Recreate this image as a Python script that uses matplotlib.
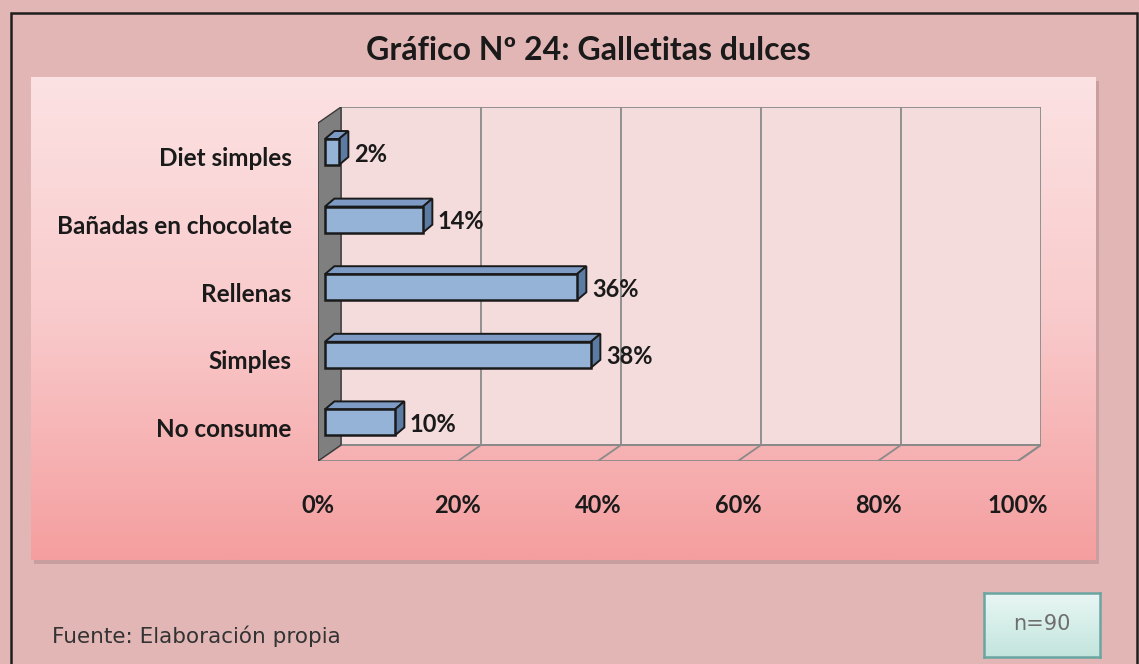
import numpy as np
import matplotlib
matplotlib.use("Agg")
import matplotlib.pyplot as plt
from matplotlib.patches import Rectangle, Polygon
from matplotlib.colors import LinearSegmentedColormap

# Data (bottom to top)
categories = ["No consume", "Simples", "Rellenas", "Bañadas en chocolate", "Diet simples"]
percentages = [10, 38, 36, 14, 2]
x_ticks = [0, 20, 40, 60, 80, 100]
x_tick_labels = ["0%", "20%", "40%", "60%", "80%", "100%"]

title = "Gráfico Nº 24: Galletitas dulces"
source = "Fuente: Elaboración propia"
sample = "n=90"

W, H = 1139, 664


def fbox(x0, y0, x1, y1):
    # pixel box (top-left origin) -> figure rect
    return [x0 / W, 1 - y1 / H, (x1 - x0) / W, (y1 - y0) / H]


fig = plt.figure(figsize=(W / 100, H / 100), dpi=100)
fig.patch.set_facecolor("#E3B6B6")

# outer frame
fig.add_artist(Rectangle((11 / W, -0.02), (1137 - 11) / W, 1 - 13 / H + 0.02,
                         transform=fig.transFigure, fill=False,
                         edgecolor="#1E1E1E", linewidth=1.8))

# panel shadow + gradient panel
fig.add_artist(Rectangle((34 / W, 1 - 564 / H), (1096 - 31) / W, (560 - 77) / H,
                         transform=fig.transFigure, facecolor="#B88E8E",
                         edgecolor="none", alpha=0.6, zorder=-1))
bg = fig.add_axes(fbox(31, 77, 1096, 560))
grad = LinearSegmentedColormap.from_list("panel", ["#FCE2E3", "#F9CACB", "#F59E9F"])
bg.imshow(np.linspace(0, 1, 256).reshape(-1, 1), aspect="auto", cmap=grad,
          extent=[0, 1, 0, 1], origin="upper")
bg.axis("off")

fig.text(588 / W, 1 - 50 / H, title, ha="center", va="center",
         fontsize=23, fontweight="bold", family="Lato", color="#1A1A1A")

# main 3D-looking bar chart
dx, dy = 3.29, 0.237          # depth of the floor/back wall
f0 = 0.3                      # where the bars sit in depth
bdx, bdy = 1.35, 0.118        # bar depth
bh = 0.385                    # bar height

ax = fig.add_axes(fbox(318, 107, 1041, 461))
ax.set_xlim(0, 100 + dx)
ax.set_ylim(0, len(categories) + dy)
ax.patch.set_alpha(0)
for s in ax.spines.values():
    s.set_visible(False)

n = len(categories)
grid_c = "#8A8A8A"
# back wall
ax.add_patch(Polygon([(dx, dy), (100 + dx, dy), (100 + dx, n + dy), (dx, n + dy)],
                     closed=True, facecolor="#F4DCDC", edgecolor=grid_c, lw=1.3, zorder=1))
for t in x_ticks[1:-1]:
    ax.plot([t + dx, t + dx], [dy, n + dy], color=grid_c, lw=1.3, zorder=1.5)
# floor
ax.add_patch(Polygon([(0, 0), (100, 0), (100 + dx, dy), (dx, dy)], closed=True,
                     facecolor="none", edgecolor=grid_c, lw=1.3, zorder=1.5))
for t in x_ticks[1:]:
    ax.plot([t, t + dx], [0, dy], color=grid_c, lw=1.3, zorder=1.5)
# left wall
ax.add_patch(Polygon([(0, 0), (0, n), (dx, n + dy), (dx, dy)], closed=True,
                     facecolor="#7F7F7F", edgecolor="#3A3A3A", lw=1.0, zorder=2))

# bars
yc = np.arange(n) + 0.5 + f0 * dy
x0 = f0 * dx
ax.barh(yc, percentages, left=x0, height=bh, color="#95B3D7",
        edgecolor="#1A1A1A", linewidth=1.8, zorder=4)
for y, v in zip(yc, percentages):
    top = [(x0, y + bh / 2), (x0 + v, y + bh / 2),
           (x0 + v + bdx, y + bh / 2 + bdy), (x0 + bdx, y + bh / 2 + bdy)]
    side = [(x0 + v, y - bh / 2), (x0 + v + bdx, y - bh / 2 + bdy),
            (x0 + v + bdx, y + bh / 2 + bdy), (x0 + v, y + bh / 2)]
    ax.add_patch(Polygon(top, closed=True, facecolor="#7D9BC4",
                         edgecolor="#1A1A1A", lw=1.4, zorder=3.5))
    ax.add_patch(Polygon(side, closed=True, facecolor="#5C7BA3",
                         edgecolor="#1A1A1A", lw=1.4, zorder=3.5))
    ax.text(x0 + v + bdx + 0.8, y - 0.03, f"{v}%", ha="left", va="center",
            fontsize=17, fontweight="bold", family="Lato", color="#1A1A1A", zorder=5)

ax.set_xticks(x_ticks)
ax.set_xticklabels(x_tick_labels, fontsize=17, fontweight="bold", family="Lato",
                   color="#1A1A1A")
ax.set_yticks(np.arange(n) + 0.5)
ax.set_yticklabels(categories, fontsize=17.5, fontweight="bold", family="Lato",
                   color="#1A1A1A")
ax.tick_params(axis="x", length=0, pad=24)
ax.tick_params(axis="y", length=0, pad=19)

# footer
fig.text(52 / W, 1 - 636 / H, source, ha="left", va="center",
         fontsize=15.5, family="DejaVu Sans", color="#333333")

nb = fig.add_axes(fbox(984, 593, 1100, 657))
cyan = LinearSegmentedColormap.from_list("nbox", ["#E8F6F4", "#C3E5DD"])
nb.imshow(np.linspace(0, 1, 64).reshape(-1, 1), aspect="auto", cmap=cyan,
          extent=[0, 1, 0, 1], origin="upper")
nb.set_xticks([])
nb.set_yticks([])
for s in nb.spines.values():
    s.set_color("#6AA6A1")
    s.set_linewidth(1.8)
nb.text(0.5, 0.52, sample, ha="center", va="center", fontsize=15,
        family="DejaVu Sans", color="#6E6E6E", transform=nb.transAxes)

fig.savefig("out.png", dpi=100, facecolor=fig.get_facecolor())
